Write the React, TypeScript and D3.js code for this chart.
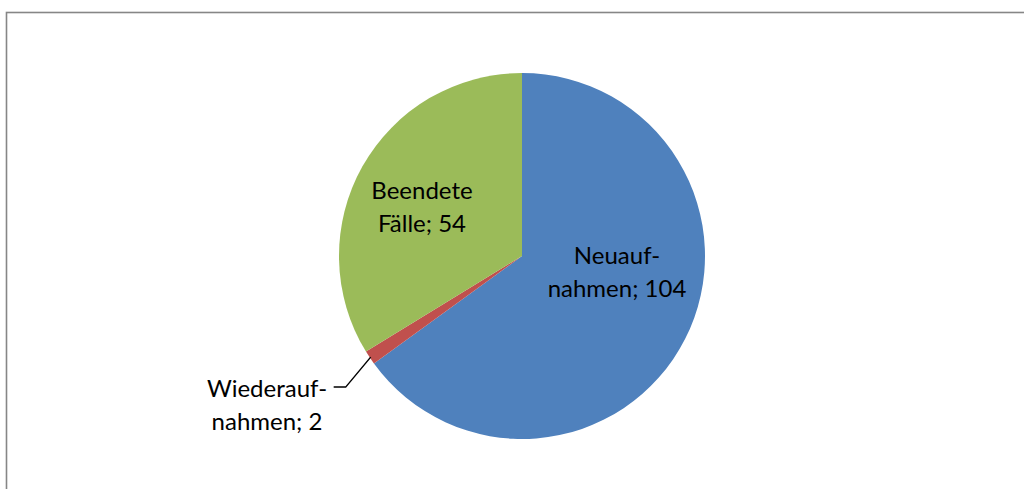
import React from "react";
import * as d3 from "d3";

const categories = ["Neuauf-\nnahmen", "Wiederauf-\nnahmen", "Beendete\nFälle"];
const values = [104, 2, 54];
const colors = ["#4F81BD", "#C0504D", "#9BBB59"];

const W = 1024;
const H = 489;
const cx = 522;
const cy = 256;
const R = 183;

// label layout (centre of text block, relative to pie centre)
const labelPos = [
  { dx: 95, dy: 15 },
  { dx: -255, dy: 148 },
  { dx: -100, dy: -50 },
];

export default function App() {
  const pie = d3.pie<number>().sort(null).value((d) => d)(values);
  const arc = d3.arc<d3.PieArcDatum<number>>().innerRadius(0).outerRadius(R);
  const fontSize = 24;
  const lineH = 33;

  const red = pie[1];
  const mid = (red.startAngle + red.endAngle) / 2;
  const edge: [number, number] = [cx + Math.sin(mid) * (R - 1), cy - Math.cos(mid) * (R - 1)];
  const elbow: [number, number] = [edge[0] - 25, edge[1] + 30];
  const end: [number, number] = [elbow[0] - 12, elbow[1]];

  return (
    <svg
      width={W}
      height={H}
      style={{ position: "absolute", left: 0, top: 0, display: "block", background: "#fff" }}
    >
      <rect x={6.5} y={12.5} width={W + 20} height={H + 20} fill="#fff" stroke="#868686" strokeWidth={1.6} />
      <g transform={`translate(${cx},${cy})`}>
        {pie.map((p, i) => (
          <path key={i} d={arc(p) || ""} fill={colors[i]} />
        ))}
      </g>
      <polyline points={[edge, elbow, end].map((p) => p.join(",")).join(" ")} fill="none" stroke="#000" strokeWidth={1.5} />
      {pie.map((p, i) => {
        const lines = categories[i].split("\n");
        lines[lines.length - 1] += "; " + values[i];
        const x = cx + labelPos[i].dx;
        const y0 = cy + labelPos[i].dy - ((lines.length - 1) * lineH) / 2;
        return (
          <text key={i} x={x} textAnchor="middle" fontFamily="Lato, 'Open Sans', sans-serif" fontSize={fontSize} fill="#000">
            {lines.map((l, j) => (
              <tspan key={j} x={x} y={y0 + j * lineH} dominantBaseline="central">
                {l}
              </tspan>
            ))}
          </text>
        );
      })}
    </svg>
  );
}
